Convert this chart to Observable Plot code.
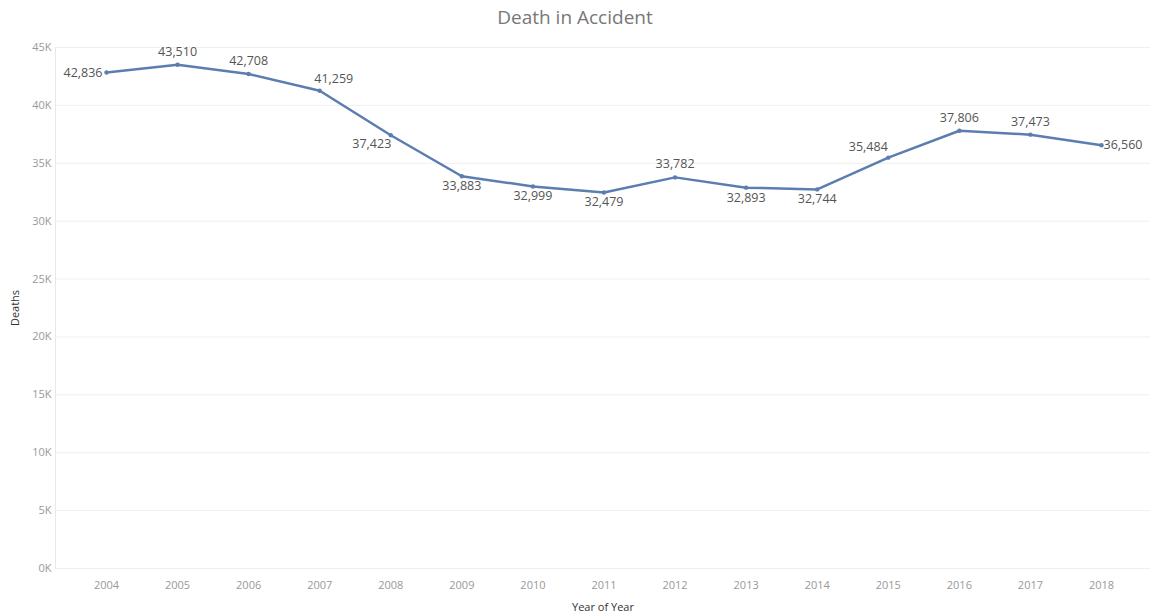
<!DOCTYPE html>
<html>
<head>
<meta charset="utf-8">
<script src="https://cdn.jsdelivr.net/npm/d3@7"></script>
<script src="https://cdn.jsdelivr.net/npm/@observablehq/plot@0.6"></script>
<style>
  html, body { margin: 0; padding: 0; background: #fff; }
  #title {
    height: 30px; line-height: 34px; text-align: center;
    font-family: "Open Sans", Lato, sans-serif; font-size: 19px; color: #777;
  }
  svg { display: block; }
</style>
</head>
<body>
<div id="title">Death in Accident</div>
<div id="chart"></div>
<script>
// Accidental deaths per year
const years  = [2004, 2005, 2006, 2007, 2008, 2009, 2010, 2011, 2012, 2013, 2014, 2015, 2016, 2017, 2018];
const deaths = [42836, 43510, 42708, 41259, 37423, 33883, 32999, 32479, 33782, 32893, 32744, 35484, 37806, 37473, 36560];
const yTicks = [0, 5000, 10000, 15000, 20000, 25000, 30000, 35000, 40000, 45000];

const rows = years.map((year, i) => ({year, deaths: deaths[i]}));

// Where each value label sits relative to its point
const placement = {
  2004: "left", 2007: "aboveRight", 2008: "belowLeft", 2009: "below", 2010: "below",
  2011: "below", 2013: "below", 2014: "below", 2015: "aboveLeft", 2018: "right"
};
const offsets = {
  above: {dx: 0, dy: -13, anchor: "middle"},
  below: {dx: 0, dy: 10, anchor: "middle"},
  left: {dx: -4, dy: 0, anchor: "end"},
  right: {dx: 2, dy: 0, anchor: "start"},
  aboveRight: {dx: 14, dy: -12, anchor: "middle"},
  belowLeft: {dx: -19, dy: 9, anchor: "middle"},
  aboveLeft: {dx: -20, dy: -11, anchor: "middle"}
};
const fmt = d3.format(",");
const labelMarks = Object.entries(offsets).map(([key, o]) =>
  Plot.text(rows.filter(d => (placement[d.year] || "above") === key), {
    x: "year", y: "deaths", text: d => fmt(d.deaths),
    dx: o.dx, dy: o.dy, textAnchor: o.anchor,
    fill: "#555", fontSize: 12.5
  })
);

const lineColor = "#5b7db0";

const chart = Plot.plot({
  width: 1150,
  height: 585,
  marginLeft: 55,
  marginRight: 0,
  marginTop: 17,
  marginBottom: 47,
  style: {fontFamily: "'Open Sans', Lato, sans-serif", fontSize: "11px", color: "#999"},
  x: {
    type: "linear", domain: [2004, 2018], insetLeft: 51, insetRight: 49,
    ticks: years, tickFormat: d => String(d), tickSize: 0, tickPadding: 13,
    label: "Year of Year", labelAnchor: "center", labelArrow: "none", labelOffset: 42
  },
  y: {
    domain: [0, 45000], ticks: yTicks, tickFormat: d => d / 1000 + "K",
    tickSize: 0, tickPadding: 4,
    label: "Deaths", labelAnchor: "center", labelArrow: "none", labelOffset: 44
  },
  marks: [
    Plot.gridY(yTicks, {stroke: "#efefef", strokeOpacity: 1}),
    Plot.frame({anchor: "left", stroke: "#e8e8e8"}),
    Plot.line(rows, {x: "year", y: "deaths", stroke: lineColor, strokeWidth: 2.5}),
    Plot.dot(rows, {x: "year", y: "deaths", r: 2.2, fill: lineColor}),
    ...labelMarks
  ]
});

// axis title styling
d3.select(chart).selectAll("[aria-label='x-axis label'] text, [aria-label='y-axis label'] text")
  .attr("fill", "#333").style("font-size", "11px");
document.getElementById("chart").appendChild(chart);
</script>
</body>
</html>
